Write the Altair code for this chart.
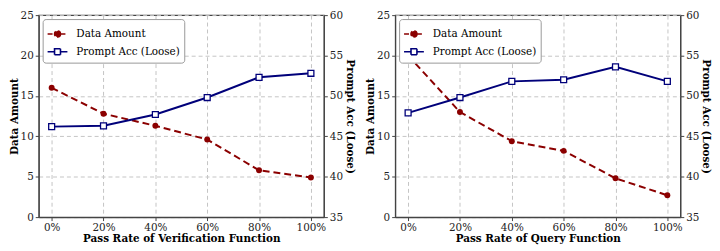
import altair as alt
import pandas as pd

pass_rate = [0, 20, 40, 60, 80, 100]
da_verif = [16.0, 12.8, 11.3, 9.6, 5.8, 4.9]
acc_verif = [46.2, 46.3, 47.7, 49.8, 52.3, 52.8]
da_query = [20.0, 13.0, 9.4, 8.2, 4.8, 2.7]
acc_query = [47.9, 49.8, 51.8, 52.0, 53.6, 51.8]
series = ["Data Amount", "Prompt Acc (Loose)"]
x_titles = ["Pass Rate of Verification Function", "Pass Rate of Query Function"]

RED = "#8b0000"
BLUE = "#00007a"
FONT = "DejaVu Serif"
GRID = "#c4c4c4"

da_path = "M-1,0L-0.3,0M0.3,0L1,0M0.3,0A0.3,0.3,0,1,1,-0.3,0A0.3,0.3,0,1,1,0.3,0Z"
pa_path = "M-1,0L-0.3,0M0.3,0L1,0M-0.3,-0.3L0.3,-0.3L0.3,0.3L-0.3,0.3Z"


def make_legend():
    return alt.Legend(
        title=None,
        orient="top-left",
        offset=4,
        fillColor="white",
        strokeColor="#999999",
        cornerRadius=3,
        padding=4,
        labelFont=FONT,
        labelFontSize=10.5,
        labelColor="black",
        labelOffset=8,
        rowPadding=-6,
        symbolSize=400,
        symbolStrokeWidth=1.6,
        symbolOpacity=1,
    )


def panel(da, acc, xtitle):
    df = pd.DataFrame({
        "rate": pass_rate + pass_rate,
        "value": da + acc,
        "series": [series[0]] * len(da) + [series[1]] * len(acc),
    })
    x = alt.X(
        "rate:Q",
        scale=alt.Scale(domain=[-5, 105], nice=False, zero=False),
        axis=alt.Axis(
            title=xtitle,
            values=pass_rate,
            labelExpr="datum.value + '%'",
            grid=True,
            gridDash=[4, 3],
            gridColor=GRID,
            titleFontWeight="bold",
            titlePadding=1,
        ),
    )
    da_axis = alt.Axis(
        title="Data Amount",
        values=[0, 5, 10, 15, 20, 25],
        grid=True,
        gridDash=[4, 3],
        gridColor=GRID,
        titleFontWeight="bold",
        titlePadding=1,
    )
    acc_axis = alt.Axis(
        title="Prompt Acc (Loose)",
        orient="right",
        values=[35, 40, 45, 50, 55, 60],
        grid=False,
        titleFontWeight="bold",
        titlePadding=2,
    )
    da_y = alt.Y("value:Q", scale=alt.Scale(domain=[0, 25], nice=False), axis=da_axis)
    acc_y = alt.Y("value:Q", scale=alt.Scale(domain=[35, 60], nice=False, zero=False), axis=acc_axis)

    base_da = alt.Chart(df).transform_filter(alt.datum.series == series[0])
    base_acc = alt.Chart(df).transform_filter(alt.datum.series == series[1])

    da_line = base_da.mark_line(color=RED, strokeWidth=2, strokeDash=[7, 4]).encode(x=x, y=da_y)
    da_pts = base_da.mark_point(filled=True, size=36, opacity=1, color=RED, shape="circle").encode(x=x, y=da_y)
    acc_line = base_acc.mark_line(color=BLUE, strokeWidth=2).encode(x=x, y=acc_y)
    acc_pts = base_acc.mark_point(
        filled=False, fill="white", fillOpacity=1, stroke=BLUE, size=36, strokeWidth=1.3, opacity=1, shape="square"
    ).encode(x=x, y=acc_y)

    leg = make_legend()
    legend_layer = (
        alt.Chart(df)
        .transform_filter("false")
        .mark_point(filled=True, size=400, strokeWidth=1.6, opacity=1)
        .encode(
            fill=alt.Fill("series:N", scale=alt.Scale(domain=series, range=[RED, "white"]), legend=leg),
            stroke=alt.Stroke("series:N", scale=alt.Scale(domain=series, range=[RED, BLUE]), legend=leg),
            shape=alt.Shape("series:N", scale=alt.Scale(domain=series, range=[da_path, pa_path]), legend=leg),
            strokeDash=alt.StrokeDash(
                "series:N", scale=alt.Scale(domain=series, range=[[5, 2], [1, 0]]), legend=leg
            ),
        )
    )
    left = alt.layer(da_line, da_pts, legend_layer)
    right = alt.layer(acc_line, acc_pts)
    return alt.layer(left, right).resolve_scale(y="independent").properties(width=288, height=204)


chart = (
    alt.hconcat(
        panel(da_verif, acc_verif, x_titles[0]),
        panel(da_query, acc_query, x_titles[1]),
        spacing=9,
    )
    .resolve_scale(fill="independent", stroke="independent", shape="independent", strokeDash="independent")
    .configure(font=FONT, background="white")
    .configure_view(stroke="#444444", strokeWidth=1.2)
    .configure_axis(
        labelFont=FONT,
        labelFontSize=10.5,
        labelColor="#222222",
        titleFont=FONT,
        titleFontSize=10.5,
        titleColor="black",
        domainColor="#444444",
        domainWidth=1.2,
        tickColor="#444444",
        tickSize=3.5,
        labelPadding=2,
    )
    .configure_legend(labelFont=FONT, labelFontSize=10.5, labelColor="black")
    .properties(padding={"left": 0, "top": 0, "right": 0, "bottom": 0})
)

chart.save("out.html", embed_options={"renderer": "svg", "actions": False})
